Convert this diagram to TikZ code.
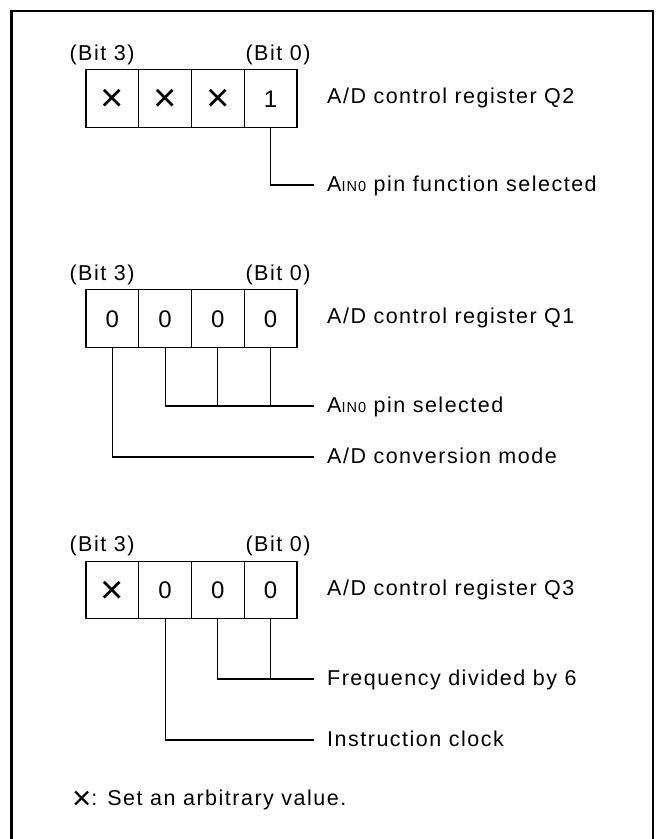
\documentclass[tikz,border=0pt]{standalone}
\usepackage{fontspec}
\setmainfont{Liberation Sans}[LetterSpace=7]
\usetikzlibrary{positioning}
\newcommand{\txtsize}{\fontsize{21.5}{26}\selectfont}
\newcommand{\ain}{A{\fontsize{14.5}{14.5}\selectfont IN0}}
\newcommand{\anyval}{\raisebox{-4.7pt}{\fontsize{40}{40}\selectfont ×}}
\tikzset{
  bitcell/.style={rectangle,draw,line width=1.1pt,minimum width=52.75pt,
                  minimum height=57.5pt,inner sep=0pt,outer sep=0pt,
                  text height=18.2pt,text depth=1pt,
                  font=\fontsize{24}{28}\selectfont},
  bitlbl/.style={inner sep=0pt,text height=16pt,text depth=4pt,font=\txtsize},
  reglbl/.style={anchor=west,inner sep=0pt,text height=16pt,text depth=4pt,
                 font=\txtsize},
  leadline/.style={line width=1.1pt},
  outframe/.style={line width=2.5pt},
}
\begin{document}
\begin{tikzpicture}[x=1pt,y=-1pt]
    \useasboundingbox (0,0) rectangle (656,839);
    \draw[outframe] (11.5,11) rectangle (653,850);

    % Register Q2
    \node[bitcell] (q2b3) at (112.4,98.5) {\anyval};
    \node[bitcell,right=0pt of q2b3] (q2b2) {\anyval};
    \node[bitcell,right=0pt of q2b2] (q2b1) {\anyval};
    \node[bitcell,right=0pt of q2b1] (q2b0) {1};
    \node[bitlbl] (q2hi) at (102,54) {(Bit 3)};
    \node[bitlbl] (q2lo) at (278,54) {(Bit 0)};
    \node[reglbl] (q2name) at (327,97) {A/D control register Q2};
    \node[reglbl] (q2pin) at (327,185) {\ain{} pin function selected};

    \draw[leadline] (q2b0.south) |- ([xshift=-13pt]q2pin.west);

    % Register Q1
    \node[bitcell] (q1b3) at (112.4,318.5) {0};
    \node[bitcell,right=0pt of q1b3] (q1b2) {0};
    \node[bitcell,right=0pt of q1b2] (q1b1) {0};
    \node[bitcell,right=0pt of q1b1] (q1b0) {0};
    \node[bitlbl] (q1hi) at (102,274) {(Bit 3)};
    \node[bitlbl] (q1lo) at (278,274) {(Bit 0)};
    \node[reglbl] (q1name) at (327,317) {A/D control register Q1};
    \node[reglbl] (q1pin) at (327,406) {\ain{} pin selected};
    \node[reglbl] (q1mode) at (327,457) {A/D conversion mode};

    \draw[leadline] (q1b2.south) |- ([xshift=-13pt]q1pin.west);
    \draw[leadline] (q1b1.south) -- (q1b1.south |- q1pin.west);
    \draw[leadline] (q1b0.south) -- (q1b0.south |- q1pin.west);
    \draw[leadline] (q1b3.south) |- ([xshift=-13pt]q1mode.west);

    % Register Q3
    \node[bitcell] (q3b3) at (112.4,590) {\anyval};
    \node[bitcell,right=0pt of q3b3] (q3b2) {0};
    \node[bitcell,right=0pt of q3b2] (q3b1) {0};
    \node[bitcell,right=0pt of q3b1] (q3b0) {0};
    \node[bitlbl] (q3hi) at (102,545) {(Bit 3)};
    \node[bitlbl] (q3lo) at (278,545) {(Bit 0)};
    \node[reglbl] (q3name) at (327,589) {A/D control register Q3};
    \node[reglbl] (q3freq) at (327,679) {Frequency divided by 6};
    \node[reglbl] (q3clk) at (327,740) {Instruction clock};

    \draw[leadline] (q3b1.south) |- ([xshift=-13pt]q3freq.west);
    \draw[leadline] (q3b0.south) -- (q3b0.south |- q3freq.west);
    \draw[leadline] (q3b2.south) |- ([xshift=-13pt]q3clk.west);

    % Note
    \node[anchor=base west,inner sep=0pt,font=\txtsize] (note) at (72,805)
        {\raisebox{-4.4pt}{\fontsize{33}{33}\selectfont ×}: Set an arbitrary value.};

  \end{tikzpicture}
\end{document}
